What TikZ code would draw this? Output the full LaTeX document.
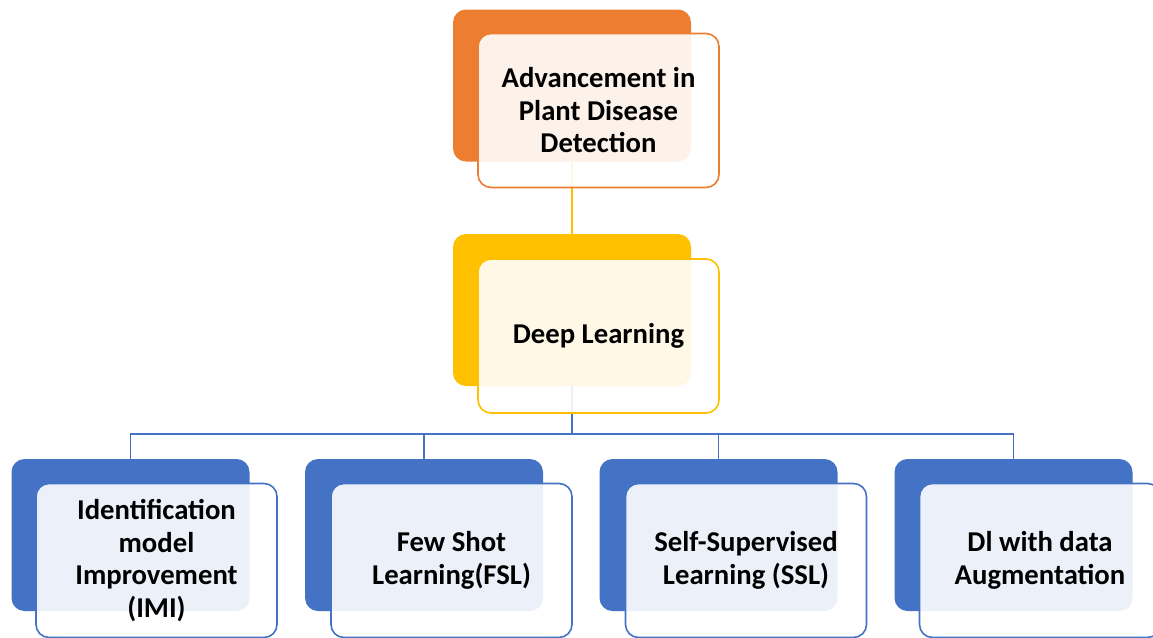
\documentclass[tikz,border=0pt]{standalone}
\usepackage{fontspec}
\setmainfont{Carlito}
\definecolor{orangeA}{HTML}{ED7D31}
\definecolor{goldA}{HTML}{FFC000}
\definecolor{blueA}{HTML}{4472C4}

\tikzset{
  backbox/.style={rectangle, rounded corners=13pt, minimum width=238pt,
    minimum height=152pt, inner sep=0pt, fill=#1, draw=none},
  frontbox/.style={rectangle, rounded corners=13pt, minimum width=241pt,
    minimum height=154pt, inner sep=0pt, draw=#1, line width=1.6pt,
    fill=white, fill opacity=0.9, text opacity=1, align=center,
    font=\fontsize{28.7}{32.5}\selectfont\bfseries, text=black},
  link/.style={draw=#1, line width=1.7pt},
}

\begin{document}
\begin{tikzpicture}[x=1pt, y=-1pt]
  \useasboundingbox (0,0) rectangle (1153,637);

  % solid back panels
  \node[backbox=orangeA] (topB) at (572,85.5) {};
  \node[backbox=goldA]   (midB) at (572,310) {};
  \node[backbox=blueA]   (c1B)  at (130.5,535) {};
  \node[backbox=blueA]   (c2B)  at (424,535) {};
  \node[backbox=blueA]   (c3B)  at (718.5,535) {};
  \node[backbox=blueA]   (c4B)  at (1013.5,535) {};

  % connectors
  \coordinate (bus) at (572,434);
  \draw[link=goldA] (topB.south) -- (midB.north);
  \draw[link=blueA] (midB.south) -- (bus) -| (c1B.north);
  \draw[link=blueA] (bus) -| (c2B.north);
  \draw[link=blueA] (bus) -| (c3B.north);
  \draw[link=blueA] (bus) -| (c4B.north);

  % translucent front cards with labels
  \node[frontbox=orangeA] (topF) at (598.5,110.5) {Advancement in\\Plant Disease\\Detection};
  \node[frontbox=goldA]   (midF) at (598.5,336) {Deep Learning};
  \node[frontbox=blueA]   (c1F)  at (156.5,560.5) {Identification\\model\\Improvement\\(IMI)};
  \node[frontbox=blueA]   (c2F)  at (451.5,560.5) {Few Shot\\Learning(FSL)};
  \node[frontbox=blueA]   (c3F)  at (746,560.5) {Self-Supervised\\Learning (SSL)};
  \node[frontbox=blueA]   (c4F)  at (1040,560.5) {Dl with data\\Augmentation};
\end{tikzpicture}
\end{document}
